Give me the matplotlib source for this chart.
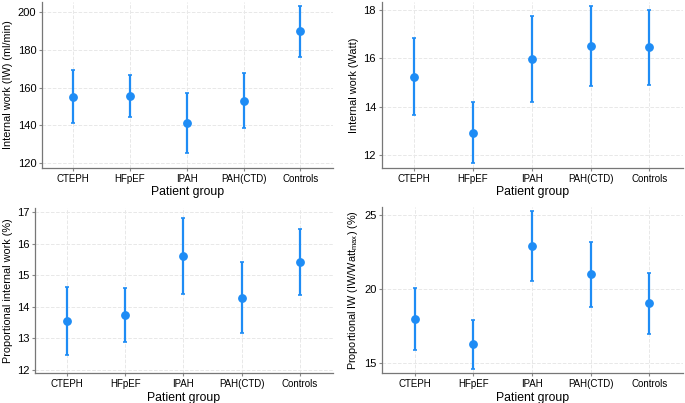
import matplotlib
matplotlib.use('Agg')
import matplotlib.pyplot as plt
import numpy as np

plt.rcParams['font.family'] = ['Liberation Sans', 'DejaVu Sans']
plt.rcParams['mathtext.default'] = 'regular'

groups = ['CTEPH', 'HFpEF', 'IPAH', 'PAH(CTD)', 'Controls']

# Internal work (ml/min)
iw_ml_mean = [155.1, 155.5, 141.4, 152.9, 189.8]
iw_ml_low = [141.4, 144.2, 125.6, 138.7, 176.4]
iw_ml_high = [169.2, 166.7, 157.1, 167.5, 203.4]

# Internal work (Watt)
iw_w_mean = [15.24, 12.93, 15.99, 16.52, 16.46]
iw_w_low = [13.66, 11.66, 14.21, 14.87, 14.90]
iw_w_high = [16.84, 14.21, 17.77, 18.17, 17.99]

# Proportional internal work (%)
prop_mean = [13.55, 13.75, 15.62, 14.29, 15.43]
prop_low = [12.49, 12.88, 14.41, 13.18, 14.38]
prop_high = [14.62, 14.60, 16.82, 15.41, 16.46]

# Proportional IW (IW/Watt max) (%)
propw_mean = [17.93, 16.22, 22.86, 20.96, 19.00]
propw_low = [15.84, 14.53, 20.53, 18.77, 16.96]
propw_high = [20.03, 17.89, 25.23, 23.17, 21.05]

panels = [
    (iw_ml_mean, iw_ml_low, iw_ml_high, 'Internal work (IW) (ml/min)',
     [120, 140, 160, 180, 200], (117.4, 205.3), [0.061, 0.583, 0.425, 0.412]),
    (iw_w_mean, iw_w_low, iw_w_high, 'Internal work (Watt)',
     [12, 14, 16, 18], (11.47, 18.33), [0.557, 0.583, 0.440, 0.412]),
    (prop_mean, prop_low, prop_high, 'Proportional internal work (%)',
     [12, 13, 14, 15, 16, 17], (11.9, 17.14), [0.051, 0.074, 0.435, 0.410]),
    (propw_mean, propw_low, propw_high, 'Proportional IW (IW/Watt$_{max}$) (%)',
     [15, 20, 25], (14.28, 25.5), [0.558, 0.074, 0.439, 0.412]),
]

blue = '#1e8cf5'
fig = plt.figure(figsize=(6.85, 4.03), dpi=100)

for mean, low, high, ylabel, yticks, ylim, pos in panels:
    ax = fig.add_axes(pos)
    x = np.arange(len(groups))
    mean = np.array(mean)
    err = [mean - np.array(low), np.array(high) - mean]
    ax.errorbar(x, mean, yerr=err, fmt='o', color=blue, ms=5.3,
                elinewidth=1.6, capsize=1.6, capthick=1.2, zorder=3)
    ax.set_xlim(-0.55, 4.57)
    ax.set_ylim(*ylim)
    ax.set_xticks(x)
    ax.set_xticklabels(groups, fontsize=7)
    ax.set_yticks(yticks)
    ax.tick_params(axis='y', labelsize=8, length=2.5, color='#888888', pad=1.5)
    ax.tick_params(axis='x', length=2.5, color='#888888', pad=2)
    ax.set_ylabel(ylabel, fontsize=7.8, labelpad=3)
    ax.set_xlabel('Patient group', fontsize=8.8, labelpad=1.5)
    ax.grid(True, color='#e8e8e8', linestyle='--', linewidth=0.7)
    ax.set_axisbelow(True)
    for s in ['top', 'right']:
        ax.spines[s].set_visible(False)
    for s in ['left', 'bottom']:
        ax.spines[s].set_color('#777777')
        ax.spines[s].set_linewidth(0.9)

fig.savefig('out.png', dpi=100)
